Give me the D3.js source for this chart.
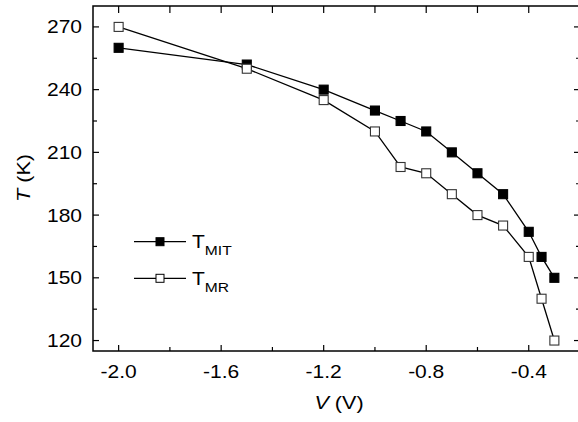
<!DOCTYPE html>
<html>
<head>
<meta charset="utf-8">
<script src="https://cdn.jsdelivr.net/npm/d3@7"></script>
<style>
  body { margin: 0; background: #fff; }
  text { font-family: "Liberation Sans", Arial, sans-serif; fill: #000; }
</style>
</head>
<body>
<div id="chart"></div>
<script>
// data
const voltages = [-2.0, -1.5, -1.2, -1.0, -0.9, -0.8, -0.7, -0.6, -0.5, -0.4, -0.35, -0.3];
const tMIT = [260, 252, 240, 230, 225, 220, 210, 200, 190, 172, 160, 150];
const tMR = [270, 250, 235, 220, 203, 200, 190, 180, 175, 160, 140, 120];
const xTicks = [-2.0, -1.6, -1.2, -0.8, -0.4];
const yTicks = [120, 150, 180, 210, 240, 270];

const width = 578, height = 422;
const margin = { left: 93, right: -2, top: 6, bottom: 71 };
const stretch = 1.2; // the original lettering is a bit wide

const svg = d3.select("#chart").append("svg")
    .attr("width", width)
    .attr("height", height);

const x = d3.scaleLinear().domain([-2.1, -0.2]).range([margin.left, width - margin.right]);
const y = d3.scaleLinear().domain([115, 280]).range([height - margin.bottom, margin.top]);

const x0 = x.range()[0], x1 = x.range()[1];
const y0 = y.range()[0], y1 = y.range()[1];

// frame
svg.append("rect")
    .attr("x", x0).attr("y", y1)
    .attr("width", x1 - x0).attr("height", y0 - y1)
    .attr("fill", "none").attr("stroke", "#000").attr("stroke-width", 1.5);

// ticks (inward)
const xMinor = d3.range(-2.0, -0.19, 0.2).map(d => +d.toFixed(1));
const yMinor = d3.range(120, 271, 15);
const isMajorX = d => xTicks.some(t => Math.abs(t - d) < 1e-6);
const isMajorY = d => yTicks.includes(d);

const ticks = svg.append("g").attr("stroke", "#000").attr("stroke-width", 1.2);
xMinor.forEach(d => {
    const len = isMajorX(d) ? 6 : 4;
    ticks.append("line").attr("x1", x(d)).attr("x2", x(d)).attr("y1", y0).attr("y2", y0 - len);
    ticks.append("line").attr("x1", x(d)).attr("x2", x(d)).attr("y1", y1).attr("y2", y1 + 7);
});
yMinor.forEach(d => {
    const len = isMajorY(d) ? 6 : 4;
    ticks.append("line").attr("x1", x0).attr("x2", x0 + len).attr("y1", y(d)).attr("y2", y(d));
    ticks.append("line").attr("x1", x1).attr("x2", x1 - len).attr("y1", y(d)).attr("y2", y(d));
});

// tick labels
svg.append("g").selectAll("text")
    .data(xTicks)
    .join("text")
    .attr("transform", d => `translate(${x(d)},${y0 + 27}) scale(${stretch},1)`)
    .attr("text-anchor", "middle")
    .attr("font-size", 17.5)
    .text(d => d.toFixed(1));

svg.append("g").selectAll("text")
    .data(yTicks)
    .join("text")
    .attr("transform", d => `translate(${x0 - 11},${y(d) + 6.5}) scale(${stretch},1)`)
    .attr("text-anchor", "end")
    .attr("font-size", 17.5)
    .text(d => d);

// axis titles
const xt = svg.append("text")
    .attr("transform", `translate(339,409) scale(${stretch},1)`)
    .attr("text-anchor", "middle")
    .attr("font-size", 18);
xt.append("tspan").attr("font-style", "italic").text("V");
xt.append("tspan").text(" (V)");

const yt = svg.append("text")
    .attr("transform", `translate(30,178) rotate(-90) scale(${stretch},1)`)
    .attr("text-anchor", "middle")
    .attr("font-size", 18);
yt.append("tspan").attr("font-style", "italic").text("T");
yt.append("tspan").text(" (K)");

// series
const series = [
    { name: "MIT", values: tMIT, fill: "#000" },
    { name: "MR", values: tMR, fill: "#fff" }
];

const line = d3.line().x(d => x(d[0])).y(d => y(d[1]));

series.forEach(s => {
    const pts = voltages.map((v, i) => [v, s.values[i]]);
    svg.append("path")
        .attr("d", line(pts))
        .attr("fill", "none")
        .attr("stroke", "#000")
        .attr("stroke-width", 1.3);
    svg.append("g").selectAll("rect")
        .data(pts)
        .join("rect")
        .attr("x", d => x(d[0]) - 4.5)
        .attr("y", d => y(d[1]) - 4.5)
        .attr("width", 9)
        .attr("height", 9)
        .attr("fill", s.fill)
        .attr("stroke", s.name === "MIT" ? "#000" : "#333")
        .attr("stroke-width", 1.1);
});

// legend
const legend = svg.append("g");
series.forEach((s, i) => {
    const ly = 241.7 + i * 36.6;
    legend.append("line")
        .attr("x1", 134).attr("x2", 186).attr("y1", ly).attr("y2", ly)
        .attr("stroke", "#000").attr("stroke-width", 1.3);
    legend.append("rect")
        .attr("x", 156).attr("y", ly - 4).attr("width", 8).attr("height", 8)
        .attr("fill", s.fill).attr("stroke", "#000").attr("stroke-width", 1);
    const t = legend.append("text")
        .attr("transform", `translate(192,${ly + 6.5}) scale(${stretch},1)`)
        .attr("font-size", 17.5);
    t.append("tspan").text("T");
    t.append("tspan").attr("font-size", 13).attr("dy", 7).text(s.name);
});
</script>
</body>
</html>
